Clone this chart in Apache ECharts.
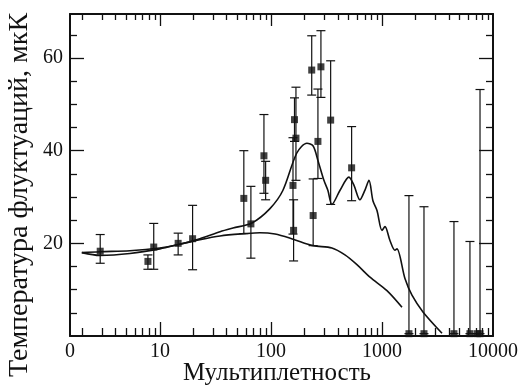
<!DOCTYPE html>
<html>
<head>
<meta charset="utf-8">
<script src="https://cdn.jsdelivr.net/npm/echarts@6/dist/echarts.min.js"></script>
<style>
  html, body { margin: 0; background: #fff; }
  #chart { width: 519px; height: 385px; }
</style>
</head>
<body>
<div id="chart"></div>
<script>
const lMin = 1.55
const lMax = 10000
const tMin = 0
const tMax = 69.5

// измерения: мультипольность, температура, нижняя и верхняя граница ошибки
const obsL  = [2.9, 7.8, 8.8, 14.6, 19.7, 57, 66, 86.5, 89.6, 158, 160, 163, 168, 233, 240, 265, 282, 345, 533, 1750, 2390, 4450, 6200, 7220, 7640]
const obsT  = [18.3, 16.1, 19.2, 20.0, 21.0, 29.7, 24.2, 38.9, 33.6, 32.5, 22.8, 46.7, 42.7, 57.4, 26.0, 42.0, 58.1, 46.6, 36.3, 0.5, 0.5, 0.5, 0.5, 0.5, 0.5]
const obsLo = [15.7, 14.4, 14.4, 17.5, 14.3, 22.1, 16.8, 30.8, 29.4, 22.0, 16.2, 42.0, 33.6, 52.0, 19.5, 34.0, 51.5, 28.4, 29.2, 0.5, 0.5, 0.5, 0.5, 0.5, 0.5]
const obsHi = [21.9, 17.5, 24.3, 22.2, 28.2, 40.0, 32.3, 47.8, 37.7, 42.8, 29.4, 51.4, 53.7, 64.8, 33.9, 53.3, 65.9, 59.4, 45.2, 30.3, 27.9, 24.7, 20.4, 0.5, 53.2]

// модель с акустическими пиками
const model1L = [1.98, 2.88, 5.37, 10, 15.1, 22.9, 34.8, 45.5, 67.4, 98, 128, 171, 211, 240, 265, 300, 326, 354, 418, 504, 560, 633, 703, 764, 829, 902, 1000, 1065, 1180, 1309, 1365, 1611, 1863, 2340, 3473]
const model1T = [18.0, 18.2, 18.4, 19.0, 19.8, 21.0, 22.5, 23.3, 24.4, 27.5, 31.4, 39.5, 41.6, 41.0, 37.9, 33.6, 31.4, 28.4, 31.4, 34.3, 32.5, 29.4, 31.5, 33.6, 29.2, 27.1, 22.8, 23.6, 20.6, 18.5, 18.8, 12.4, 8.8, 5.2, 0.6]

// модель без пиков
const model2L = [1.98, 2.88, 5.37, 10, 15.1, 22.9, 34.8, 58.3, 79.7, 109, 158, 239, 354, 464, 595, 780, 1109, 1515]
const model2T = [18.0, 17.4, 17.8, 18.8, 19.8, 20.8, 21.6, 22.1, 22.3, 22.0, 20.9, 19.5, 19.0, 17.5, 15.4, 12.7, 9.8, 6.2]

const xLabelValues = [1.55, 10, 100, 1000, 10000]
const xLabelTexts  = ['0', '10', '100', '1000', '10000']
const xMajorTicks  = [10, 100, 1000]
const yLabelValues = [20, 40, 60]
const yMinorTicks  = [5, 10, 15, 25, 30, 35, 45, 50, 55, 65]

const lg = Math.log10
const ink = '#111'
const serif = '"Liberation Serif", "DejaVu Serif", serif'

const xMinorTicks = []
for (let k = 0; k < 4; k++) {
  for (let m = 2; m <= 9; m++) {
    const v = m * Math.pow(10, k)
    if (v > lMin && v < lMax) xMinorTicks.push(lg(v))
  }
}

const xAxisBase = (position, showLine, ticks, len, labels) => ({
  type: 'value',
  position: position,
  min: lg(lMin),
  max: lg(lMax),
  splitLine: { show: false },
  axisLine: { show: showLine, onZero: false, lineStyle: { color: ink, width: 2 } },
  axisTick: { show: true, inside: true, length: len, customValues: ticks, lineStyle: { color: ink, width: 1.3 } },
  axisLabel: labels ? {
    show: true,
    customValues: xLabelValues.map(lg),
    margin: 6,
    color: ink,
    fontFamily: serif,
    fontSize: 20,
    formatter(val) {
      const i = xLabelValues.findIndex(v => Math.abs(lg(v) - val) < 1e-6)
      return i >= 0 ? xLabelTexts[i] : ''
    }
  } : { show: false }
})

const yAxisBase = (position, showLine, ticks, len, labels) => ({
  type: 'value',
  position: position,
  min: tMin,
  max: tMax,
  splitLine: { show: false },
  axisLine: { show: showLine, onZero: false, lineStyle: { color: ink, width: 2 } },
  axisTick: { show: true, inside: true, length: len, customValues: ticks, lineStyle: { color: ink, width: 1.3 } },
  axisLabel: labels ? {
    show: true,
    customValues: yLabelValues,
    margin: 7,
    color: ink,
    fontFamily: serif,
    fontSize: 20
  } : { show: false }
})

const chart = echarts.init(document.getElementById('chart'), null, { renderer: 'canvas' })
chart.setOption({
  animation: false,
  backgroundColor: '#fff',
  grid: { left: 70, right: 26, top: 14, bottom: 49, containLabel: false, outerBoundsMode: 'none' },
  xAxis: [
    xAxisBase('bottom', true, xMinorTicks, 8, true),
    xAxisBase('bottom', false, xMajorTicks.map(lg), 14, false),
    xAxisBase('top', true, xMinorTicks, 6, false),
    xAxisBase('top', false, xMajorTicks.map(lg), 12, false)
  ],
  yAxis: [
    yAxisBase('left', true, yMinorTicks, 7, true),
    yAxisBase('left', false, yLabelValues, 14, false),
    yAxisBase('right', true, yMinorTicks, 7, false),
    yAxisBase('right', false, yLabelValues, 14, false)
  ],
  graphic: [
    {
      type: 'text',
      x: 20, y: 195,
      rotation: Math.PI / 2,
      style: {
        text: 'Температура флуктуаций, мкК',
        fill: ink,
        font: '28px ' + serif,
        textAlign: 'center',
        textVerticalAlign: 'middle'
      }
    },
    {
      type: 'text',
      x: 277, y: 386,
      style: {
        text: 'Мультиплетность',
        fill: ink,
        font: '25px ' + serif,
        textAlign: 'center',
        textVerticalAlign: 'bottom'
      }
    }
  ],
  series: [
    {
      type: 'line',
      data: model1L.map((l, i) => [lg(l), model1T[i]]),
      smooth: 0.3,
      showSymbol: false,
      lineStyle: { color: ink, width: 1.6 },
      z: 3
    },
    {
      type: 'line',
      data: model2L.map((l, i) => [lg(l), model2T[i]]),
      smooth: 0.3,
      showSymbol: false,
      lineStyle: { color: ink, width: 1.6 },
      z: 3
    },
    {
      type: 'custom',
      data: obsL.map((l, i) => [lg(l), obsLo[i], obsHi[i]]),
      renderItem(params, api) {
        const x = api.value(0)
        const lo = api.coord([x, api.value(1)])
        const hi = api.coord([x, api.value(2)])
        const w = 4.5
        const st = { stroke: ink, lineWidth: 1.2 }
        return {
          type: 'group',
          children: [
            { type: 'line', shape: { x1: lo[0], y1: lo[1], x2: hi[0], y2: hi[1] }, style: st },
            { type: 'line', shape: { x1: hi[0] - w, y1: hi[1], x2: hi[0] + w, y2: hi[1] }, style: st },
            { type: 'line', shape: { x1: lo[0] - w, y1: lo[1], x2: lo[0] + w, y2: lo[1] }, style: st }
          ]
        }
      },
      z: 4
    },
    {
      type: 'scatter',
      data: obsL.map((l, i) => [lg(l), obsT[i]]),
      symbol: 'rect',
      symbolSize: 7,
      itemStyle: { color: ink },
      z: 5
    }
  ]
})
</script>
</body>
</html>
